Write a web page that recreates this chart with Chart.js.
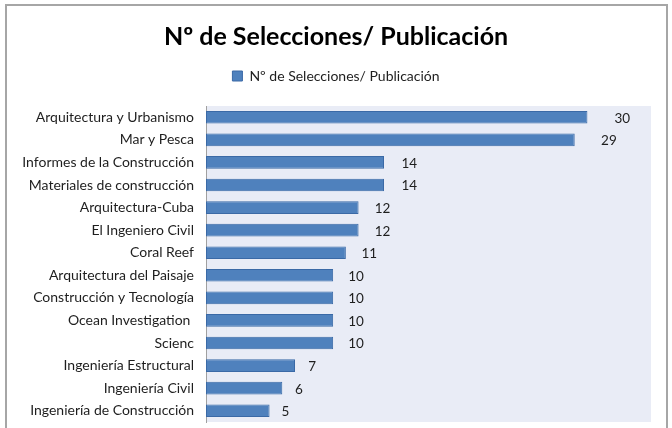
<!DOCTYPE html>
<html>
<head>
<meta charset="utf-8">
<script src="https://cdn.jsdelivr.net/npm/chart.js@4/dist/chart.umd.min.js"></script>
<style>
html,body{margin:0;padding:0;background:#fff;overflow:hidden;}
#wrap{position:relative;width:672px;height:428px;}
</style>
</head>
<body>
<div id="wrap"><canvas id="c" width="672" height="428"></canvas></div>
<script>
const chartTitle = "Nº de Selecciones/ Publicación";
const seriesName = "Nº de Selecciones/ Publicación";
const categories = [
  "Arquitectura y Urbanismo",
  "Mar y Pesca",
  "Informes de la Construcción",
  "Materiales de construcción",
  "Arquitectura-Cuba",
  "El Ingeniero Civil",
  "Coral Reef",
  "Arquitectura del Paisaje",
  "Construcción y Tecnología",
  "Ocean Investigation ",
  "Scienc",
  "Ingeniería Estructural",
  "Ingeniería Civil",
  "Ingeniería de Construcción"
];
const values = [30, 29, 14, 14, 12, 12, 11, 10, 10, 10, 10, 7, 6, 5];
const xMin = 0;
const xMax = 35;

const frameAndBg = {
  id: 'frameAndBg',
  beforeDraw(chart) {
    const ctx = chart.ctx;
    const a = chart.chartArea;
    ctx.save();
    ctx.fillStyle = '#e9ecf6';
    ctx.fillRect(a.left, a.top, a.right - a.left, a.bottom - a.top);
    ctx.strokeStyle = '#a6a6a6';
    ctx.lineWidth = 2;
    ctx.strokeRect(6, 5, 661, 440);
    ctx.restore();
  }
};

const valueLabels = {
  id: 'valueLabels',
  afterDatasetsDraw(chart) {
    const ctx = chart.ctx;
    const meta = chart.getDatasetMeta(0);
    ctx.save();
    ctx.font = '13.5px Lato';
    ctx.fillStyle = '#1e1e1e';
    ctx.textAlign = 'left';
    ctx.textBaseline = 'middle';
    meta.data.forEach((bar, i) => {
      const v = chart.data.datasets[0].data[i];
      const off = 12 + (v - 5) * 0.6;
      ctx.fillText(String(v), bar.x + off, bar.y + 1);
    });
    ctx.restore();
  }
};

new Chart(document.getElementById('c'), {
  type: 'bar',
  data: {
    labels: categories,
    datasets: [{
      label: seriesName,
      data: values,
      backgroundColor: '#4f81bd',
      borderColor: '#3a69a6',
      borderWidth: 1,
      borderSkipped: false,
      barPercentage: 0.56,
      categoryPercentage: 1.0
    }]
  },
  options: {
    indexAxis: 'y',
    responsive: false,
    animation: false,
    layout: { padding: { left: 21, right: 21, top: 0, bottom: 6 } },
    plugins: {
      title: {
        display: true,
        text: chartTitle,
        color: '#000',
        font: { family: 'Lato', size: 25, weight: 'bold' },
        padding: { top: 22, bottom: 9 }
      },
      legend: {
        display: true,
        labels: {
          color: '#1e1e1e',
          font: { family: 'Lato', size: 14 },
          boxWidth: 10,
          boxHeight: 10,
          padding: 8
        }
      },
      tooltip: { enabled: false }
    },
    scales: {
      x: {
        display: false,
        min: xMin,
        max: xMax
      },
      x2: {
        type: 'linear',
        position: 'top',
        display: true,
        grid: { display: false, drawTicks: false },
        border: { display: false },
        ticks: { display: false },
        afterFit(scale) { scale.height = 13; }
      },
      y: {
        afterFit(scale) { scale.width = 185; scale.paddingTop = 0; scale.paddingBottom = 0; },
        grid: { display: false, drawTicks: false },
        border: { display: true, color: '#a0a0a0', width: 1 },
        ticks: {
          color: '#1e1e1e',
          font: { family: 'Lato', size: 14 },
          padding: 12
        }
      }
    }
  },
  plugins: [frameAndBg, valueLabels]
});
</script>
</body>
</html>
